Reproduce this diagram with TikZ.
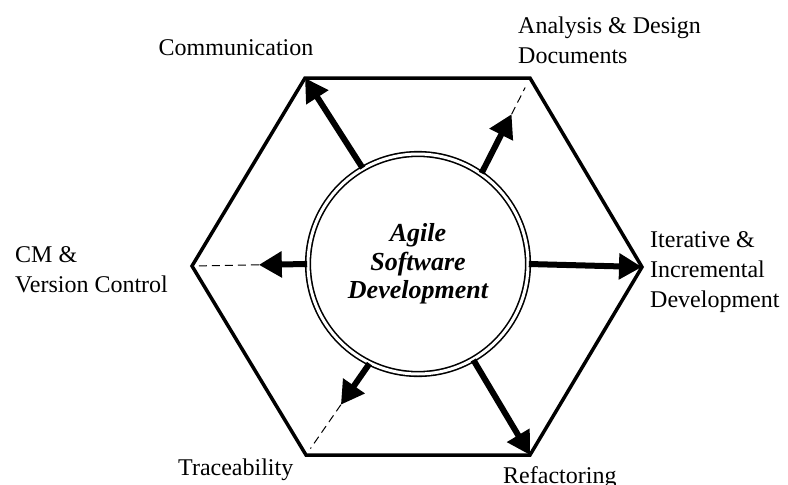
\documentclass[tikz,border=0pt]{standalone}
\usepackage{fontspec}
\setmainfont{Liberation Serif}
\usetikzlibrary{calc,arrows.meta}

\tikzset{
  flow/.style = {line width=6pt, -{Triangle[length=23pt,width=25pt]}},
  hint/.style = {line width=1pt, dash pattern=on 8pt off 5pt},
  lbl/.style  = {font=\fontsize{24}{30}\selectfont, align=left, inner sep=0pt},
}

\begin{document}
\begin{tikzpicture}[x=1pt,y=-1pt]
  \useasboundingbox (0,0) rectangle (788,485);
  % hexagon corners
  \coordinate (tl) at (305,78);
  \coordinate (tr) at (530,78);
  \coordinate (rt) at (642,267);
  \coordinate (br) at (530,455);
  \coordinate (bl) at (306,455);
  \coordinate (lf) at (192,266);
  % outline
  \draw [line width=3.5pt, line join=miter] (tl) -- (tr) -- (rt) -- (br) -- (bl) -- (lf) -- cycle;
  % centre
  \node [circle, draw, double, double distance=3pt, line width=1.6pt, minimum size=220pt,
         align=center, font=\bfseries\itshape\fontsize{26}{28.5}\selectfont] (core) at (418,264)
        {Agile\\Software\\Development};
  % arrows
  \coordinate (anltip) at ($(core.55)!0.62!(tr)$);
  \coordinate (anlend) at ($(core.55)!0.9!(tr)$);
  \coordinate (cmtip)  at ($(core.180)!0.42!(lf)$);
  \coordinate (trctip) at ($(core.244)!0.45!(bl)$);
  \coordinate (trcend) at ($(core.244)!0.93!(bl)$);
  \draw [flow] (core.120) -- (tl);
  \draw [flow] (core.55)  -- (anltip);
  \draw [hint] (anltip)   -- (anlend);
  \draw [flow] (core.180) -- (cmtip);
  \draw [hint] (cmtip)    -- (lf);
  \draw [flow] (core.0)   -- (rt);
  \draw [flow] (core.244) -- (trctip);
  \draw [hint] (trctip)   -- (trcend);
  \draw [flow] (core.300) -- (br);
  % labels (multi-line ones sit on their last line)
  \node [lbl, anchor=base]      (comm) at (236,55)  {Communication};
  \node [lbl, anchor=base west] (anl)  at (518,63)  {Analysis \& Design\\Documents};
  \node [lbl, anchor=base west] (cm)   at (15,292)  {CM \&\\Version Control};
  \node [lbl, anchor=base west] (itr)  at (650,307) {Iterative \&\\Incremental\\Development};
  \node [lbl, anchor=base west] (trc)  at (178,475) {Traceability};
  \node [lbl, anchor=base west] (ref)  at (503,483) {Refactoring};
\end{tikzpicture}
\end{document}
